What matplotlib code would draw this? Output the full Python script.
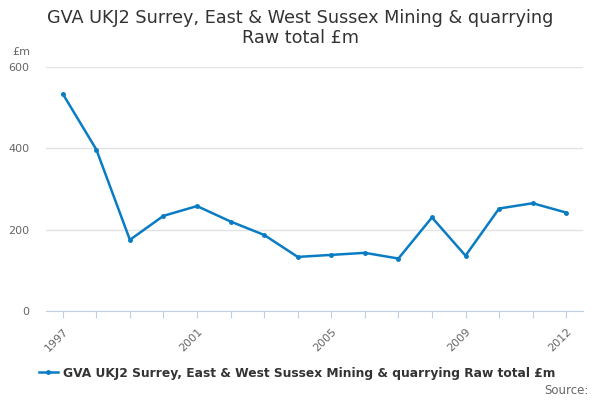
import matplotlib.pyplot as plt

years = list(range(1997, 2013))
values = [534, 397, 175, 234, 258, 220, 187, 133, 138, 143, 129, 230, 136, 252, 265, 242]
tick_years = [1997, 2001, 2005, 2009, 2012]
y_ticks = [0, 200, 400, 600]
series_name = 'GVA UKJ2 Surrey, East & West Sussex Mining & quarrying Raw total £m'

fig = plt.figure(figsize=(6, 4), dpi=100)
ax = fig.add_axes([46 / 600, 1 - 311 / 400, (583 - 46) / 600, (311 - 67) / 400])

line, = ax.plot(years, values, color='#0a7cc4', linewidth=1.8, marker='o', markersize=2.5)

ax.set_ylim(0, 600)
ax.set_xlim(1996.5, 2012.5)
ax.set_yticks(y_ticks)
ax.set_xticks(years)
ax.set_xticklabels([str(y) if y in tick_years else '' for y in years], rotation=45,
                   ha='right', rotation_mode='anchor')
ax.grid(axis='y', color='#e3e3e3', linewidth=1)
ax.set_axisbelow(True)
for s in ['top', 'right', 'left']:
    ax.spines[s].set_visible(False)
ax.spines['bottom'].set_color('#c0d0e0')
ax.tick_params(axis='x', colors='#c0d0e0', length=5, pad=6, labelcolor='#666666', labelsize=8)
ax.tick_params(axis='y', length=0, labelcolor='#666666', labelsize=8, pad=12)

fig.text(12 / 600, 1 - 52 / 400, '£m', fontsize=8, color='#666666', va='center')
fig.text(0.5, 1 - 28 / 400, 'GVA UKJ2 Surrey, East & West Sussex Mining & quarrying\nRaw total £m',
         ha='center', va='center', fontsize=12.7, color='#333333', linespacing=1.1)

leg = fig.legend([line], [series_name], loc='center', bbox_to_anchor=(297 / 600, 1 - 373 / 400),
                 frameon=False, handlelength=1.6, handletextpad=0.4,
                 prop={'weight': 'bold', 'size': 8.8})
for t in leg.get_texts():
    t.set_color('#333333')
fig.text(589 / 600, 1 - 390 / 400, 'Source:', ha='right', va='center', fontsize=8.5, color='#666666')

fig.savefig('out.png', dpi=100)
